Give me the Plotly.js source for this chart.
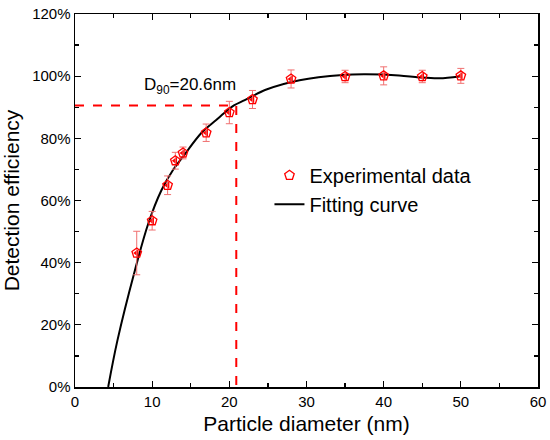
<!DOCTYPE html>
<html>
<head>
<meta charset="utf-8">
<script src="https://cdn.plot.ly/plotly-3.0.1.min.js"></script>
<style>html,body{margin:0;padding:0;background:#fff;}#chart{width:550px;height:440px;}</style>
</head>
<body>
<div id="chart"></div>
<script>
// Experimental data (particle diameter nm, detection efficiency %)
var expDiameter = [8, 10, 12, 13, 14, 17, 20, 23, 28, 35, 40, 45, 50];
var expEfficiency = [43.1, 53.5, 64.9, 72.8, 75.3, 81.8, 88.3, 92.5, 99.1, 99.9, 100.1, 99.9, 100.1];
var expError = [7.0, 3.0, 3.0, 2.7, 1.9, 2.8, 3.6, 2.9, 2.9, 2.0, 2.9, 2.0, 2.4];

// Fitting curve
var fitDiameter = [4.3, 5.5, 7.76, 9.5, 11.2, 12.7, 14.0, 16.4, 18.3, 19.8, 20.6, 22.0, 24.8, 29.1, 34.7, 37.7, 42.0, 44.6, 47.2, 49.8];
var fitEfficiency = [0, 15, 37.5, 52.6, 63.3, 69.8, 74.1, 81.8, 85.9, 89.1, 90.6, 92.3, 95.7, 98.7, 100.4, 100.6, 100.25, 99.6, 99.3, 99.9];

// D90 guide lines
var d90Label = 'D<sub>90</sub>=20.6nm';
var guideX = [0, 20.9, 20.9];
var guideY = [90.6, 90.6, 0];

var xTicks = [0, 10, 20, 30, 40, 50, 60];
var yTicks = [0, 20, 40, 60, 80, 100, 120];
var yTickLabels = ['0%', '20%', '40%', '60%', '80%', '100%', '120%'];

var red = '#ff0000';
var font = 'Liberation Sans, Arial, sans-serif';

var traces = [
  {
    x: guideX, y: guideY, type: 'scatter', mode: 'lines',
    line: {color: red, width: 2, dash: 'dash'}, showlegend: false, hoverinfo: 'skip'
  },
  {
    x: fitDiameter, y: fitEfficiency, type: 'scatter', mode: 'lines',
    line: {color: '#000', width: 2, shape: 'spline', smoothing: 1}, name: 'Fitting curve'
  },
  {
    x: expDiameter, y: expEfficiency, type: 'scatter', mode: 'markers',
    marker: {symbol: 'triangle-left', size: 7, color: red}, showlegend: false, hoverinfo: 'skip'
  },
  {
    x: expDiameter, y: expEfficiency, type: 'scatter', mode: 'markers',
    name: 'Experimental data',
    marker: {symbol: 'pentagon-open', size: 10, color: red, line: {color: red, width: 1.3}},
    error_y: {type: 'data', array: expError, visible: true, color: '#f07070', thickness: 1, width: 3.5}
  }
];

var axisCommon = {
  showline: true, linecolor: '#000', linewidth: 1.5, mirror: 'ticks',
  ticks: 'inside', ticklen: 6, tickwidth: 1.3, tickcolor: '#000',
  showgrid: false, zeroline: false,
  tickfont: {family: font, size: 15, color: '#000'}
};

var layout = {
  width: 550, height: 440,
  margin: {l: 75, r: 12, t: 14, b: 53},
  paper_bgcolor: '#fff', plot_bgcolor: '#fff',
  font: {family: font, color: '#000'},
  xaxis: Object.assign({}, axisCommon, {
    range: [0, 60], tickmode: 'array', tickvals: xTicks,
    minor: {ticks: 'inside', dtick: 5, ticklen: 4, tickwidth: 1.3, tickcolor: '#000', showgrid: false},
    title: {text: 'Particle diameter (nm)', font: {family: font, size: 21, color: '#000'}, standoff: 8}
  }),
  yaxis: Object.assign({}, axisCommon, {
    range: [0, 120], tickmode: 'array', tickvals: yTicks, ticktext: yTickLabels,
    minor: {ticks: 'inside', dtick: 10, ticklen: 4, tickwidth: 1.3, tickcolor: '#000', showgrid: false},
    title: {text: 'Detection efficiency', font: {family: font, size: 21, color: '#000'}, standoff: 10}
  }),
  legend: {
    x: 0.42, y: 0.62, xanchor: 'left', yanchor: 'top',
    bgcolor: 'rgba(0,0,0,0)', font: {family: font, size: 20, color: '#000'},
    traceorder: 'reversed'
  },
  annotations: [{
    x: 14.9, y: 96.9, xref: 'x', yref: 'y', text: d90Label, showarrow: false,
    font: {family: font, size: 17, color: '#000'}
  }],
  showlegend: true
};

Plotly.newPlot('chart', traces, layout, {displayModeBar: false, staticPlot: true});
</script>
</body>
</html>
